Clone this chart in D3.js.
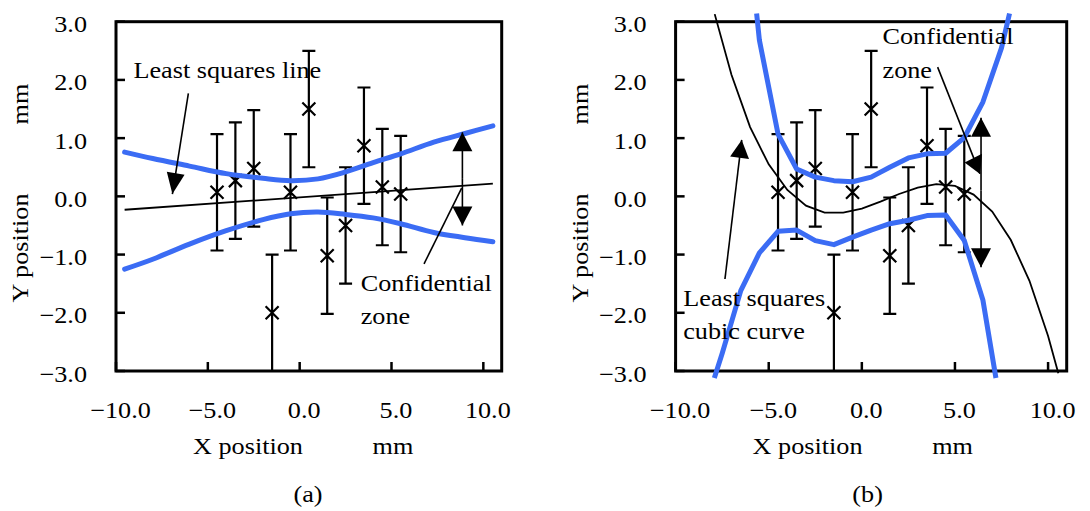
<!DOCTYPE html>
<html><head><meta charset="utf-8">
<script src="https://cdn.jsdelivr.net/npm/d3@7"></script>
<style>
body{margin:0;background:#fff}
text{font-family:"Liberation Serif","Times New Roman",serif;font-size:23px;fill:#000}
</style>
</head><body>
<svg id="c" width="1090" height="511"></svg>
<script>
// ---------- data ----------
const xTicks = [-10, -5, 0, 5, 10];
const xTickLabels = ["\u221210.0", "\u22125.0", "0.0", "5.0", "10.0"];
const yTicks = [-3, -2, -1, 0, 1, 2, 3];
const yTickLabels = ["\u22123.0", "\u22122.0", "\u22121.0", "0.0", "1.0", "2.0", "3.0"];

const pointX = [-4.5, -3.5, -2.5, -1.5, -0.5, 0.5, 1.5, 2.5, 3.5, 4.5, 5.5];
const pointY = [0.07, 0.27, 0.48, -2.0, 0.07, 1.5, -1.02, -0.5, 0.87, 0.16, 0.04];
const pointErr = [1, 1, 1, 1, 1, 1, 1, 1, 1, 1, 1];

// (a) least squares line and its confidence band
const lineX = [-9.53, 10.52];
const lineY = [-0.23, 0.22];
const bandAX = [-9.53, -8, -6, -4, -2, -0.5, 1, 2.5, 4, 5.5, 7.3, 9, 10.52];
const bandAUpper = [0.76, 0.65, 0.52, 0.39, 0.31, 0.27, 0.30, 0.42, 0.58, 0.73, 0.93, 1.08, 1.21];
const bandALower = [-1.25, -1.08, -0.82, -0.59, -0.40, -0.30, -0.27, -0.31, -0.37, -0.47, -0.62, -0.71, -0.78];

// (b) least squares cubic curve and its confidence band
const cubicX = [-7.9, -7, -6, -5, -4, -3, -2, -1, 0, 1, 2, 3, 4, 5, 6, 7, 8, 9, 10, 10.55];
const cubicY = [3.13, 2.09, 1.19, 0.55, 0.11, -0.16, -0.28, -0.28, -0.21, -0.09, 0.04, 0.15, 0.21, 0.18, 0.03, -0.26, -0.75, -1.45, -2.40, -3.04];
const bandBUpperX = [-5.65, -5.5, -4.5, -3.5, -2.5, -1.5, -0.5, 0.5, 1.5, 2.5, 3.5, 4.5, 5.5, 6.5, 7.5, 7.93];
const bandBUpperY = [3.14, 2.68, 1.07, 0.47, 0.33, 0.27, 0.25, 0.33, 0.50, 0.66, 0.73, 0.74, 1.01, 1.62, 2.55, 3.14];
const bandBLowerX = [-7.92, -7.5, -6.5, -5.5, -4.5, -3.5, -2.5, -1.5, -0.5, 0.5, 1.5, 2.5, 3.5, 4.5, 5.5, 6.5, 7.2];
const bandBLowerY = [-3.12, -2.7, -1.62, -0.97, -0.60, -0.58, -0.76, -0.83, -0.70, -0.58, -0.47, -0.41, -0.33, -0.32, -0.76, -1.78, -3.12];

// ---------- drawing ----------
const BLUE = "#3b6cf4";
const SX = 1.14;
const svg = d3.select("#c");

function txt(g, x, y, s, anchor, rot) {
  g.append("text")
    .attr("transform", `translate(${x},${y})` + (rot ? ` rotate(${rot})` : "") + ` scale(${SX},1)`)
    .attr("text-anchor", anchor || "start")
    .text(s);
}
function head(g, tip, from, len, wid) {
  const dx = tip[0] - from[0], dy = tip[1] - from[1];
  const L = Math.hypot(dx, dy), ux = dx / L, uy = dy / L;
  const bx = tip[0] - ux * len, by = tip[1] - uy * len;
  const px = -uy * wid / 2, py = ux * wid / 2;
  g.append("path").attr("d", `M${tip[0]},${tip[1]}L${bx + px},${by + py}L${bx - px},${by - py}Z`).attr("fill", "#000");
}
function arrowLine(g, a, b, len, wid) {
  g.append("line").attr("x1", a[0]).attr("y1", a[1]).attr("x2", b[0]).attr("y2", b[1])
    .attr("stroke", "#000").attr("stroke-width", 1.6);
  if (len) head(g, b, a, len, wid);
}

function panel(range, label) {
  const x = d3.scaleLinear().domain([-10, 11]).range(range);
  const y = d3.scaleLinear().domain([-3, 3]).range([371, 21.7]);
  const g = svg.append("g");
  const L = x(-10), R = x(11);

  g.selectAll(".yt").data(yTicks).join("line")
    .attr("x1", L).attr("x2", L + 9).attr("y1", d => y(d)).attr("y2", d => y(d))
    .attr("stroke", "#000").attr("stroke-width", 2.5);
  g.selectAll(".xt").data(xTicks).join("line")
    .attr("x1", d => x(d)).attr("x2", d => x(d)).attr("y1", y(-3)).attr("y2", y(-3) - 9)
    .attr("stroke", "#000").attr("stroke-width", 2.5);
  g.append("rect").attr("x", L).attr("y", y(3)).attr("width", R - L).attr("height", y(-3) - y(3))
    .attr("fill", "none").attr("stroke", "#000").attr("stroke-width", 3);

  yTicks.forEach((t, i) => txt(g, L - 29, y(t) + 10.5, yTickLabels[i], "end"));
  xTicks.forEach((t, i) => txt(g, x(t) + 4.5, 417.5, xTickLabels[i], "middle"));

  txt(g, L - 88, 248, "Y position", "middle", -90);
  txt(g, L - 88, 104, "mm", "middle", -90);
  txt(g, L + 132, 453.5, "X position", "middle");
  txt(g, L + 277, 453.5, "mm", "middle");
  txt(g, L + 192, 502, label, "middle");

  const pg = g.append("g").attr("stroke", "#000").attr("stroke-width", 2.2).attr("fill", "none");
  pointX.forEach((px, i) => {
    const cx = x(px), cy = y(pointY[i]);
    const t = y(pointY[i] + pointErr[i]), b = y(pointY[i] - pointErr[i]);
    const m = 6.5;
    pg.append("path").attr("d",
      `M${cx},${t}V${b}M${cx - 6.5},${t}H${cx + 6.5}M${cx - 6.5},${b}H${cx + 6.5}` +
      `M${cx - m},${cy - m}L${cx + m},${cy + m}M${cx - m},${cy + m}L${cx + m},${cy - m}`);
  });
  return { g, x, y };
}

// ----- panel (a)
{
  const { g, x, y } = panel([116, 501.7], "(a)");
  const lineGen = (xs, curve) => d3.line().x((d, i) => x(xs[i])).y(d => y(d)).curve(curve);
  g.append("path").datum(bandAUpper).attr("d", lineGen(bandAX, d3.curveCatmullRom))
    .attr("fill", "none").attr("stroke", BLUE).attr("stroke-width", 5).attr("stroke-linecap", "round");
  g.append("path").datum(bandALower).attr("d", lineGen(bandAX, d3.curveCatmullRom))
    .attr("fill", "none").attr("stroke", BLUE).attr("stroke-width", 5).attr("stroke-linecap", "round");
  g.append("path").datum(lineY).attr("d", lineGen(lineX, d3.curveLinear))
    .attr("fill", "none").attr("stroke", "#000").attr("stroke-width", 1.8);

  txt(g, x(-9.05), y(2.03), "Least squares line");
  arrowLine(g, [x(-6.06), y(1.77)], [x(-6.93), y(0.04)], 21, 18);
  arrowLine(g, [x(8.86), y(0.3)], [x(8.86), y(1.10)], 19, 20);
  arrowLine(g, [x(8.86), y(0.3)], [x(8.86), y(-0.50)], 19, 20);
  arrowLine(g, [x(6.77), y(-1.16)], [x(8.82), y(0.14)]);
  txt(g, x(3.32), y(-1.62), "Confidential");
  txt(g, x(3.32), y(-2.19), "zone");
}

// ----- panel (b)
{
  const { g, x, y } = panel([675.6, 1066.7], "(b)");
  const lineGen = (xs) => d3.line().x((d, i) => x(xs[i])).y(d => y(d)).curve(d3.curveLinear);
  g.append("path").datum(bandBUpperY).attr("d", lineGen(bandBUpperX))
    .attr("fill", "none").attr("stroke", BLUE).attr("stroke-width", 5).attr("stroke-linejoin", "round");
  g.append("path").datum(bandBLowerY).attr("d", lineGen(bandBLowerX))
    .attr("fill", "none").attr("stroke", BLUE).attr("stroke-width", 5).attr("stroke-linejoin", "round");
  g.append("path").datum(cubicY).attr("d", lineGen(cubicX))
    .attr("fill", "none").attr("stroke", "#000").attr("stroke-width", 1.8);

  txt(g, x(-9.59), y(-1.88), "Least squares");
  txt(g, x(-9.59), y(-2.45), "cubic curve");
  arrowLine(g, [x(-7.35), y(-1.42)], [x(-6.45), y(0.97)], 18, 19);

  txt(g, x(1.11), y(2.62), "Confidential");
  txt(g, x(1.11), y(2.03), "zone");
  arrowLine(g, [x(4.07), y(2.22)], [x(6.34), y(0.39)]);
  g.append("path").attr("d",
    `M${x(5.52)},${y(0.58)}L${x(6.45)},${y(0.73)}L${x(6.36)},${y(0.38)}Z`).attr("fill", "#000");
  arrowLine(g, [x(6.40), y(0.1)], [x(6.40), y(1.35)], 19, 20);
  arrowLine(g, [x(6.40), y(0.1)], [x(6.40), y(-1.22)], 19, 20);
}
</script>
</body></html>
